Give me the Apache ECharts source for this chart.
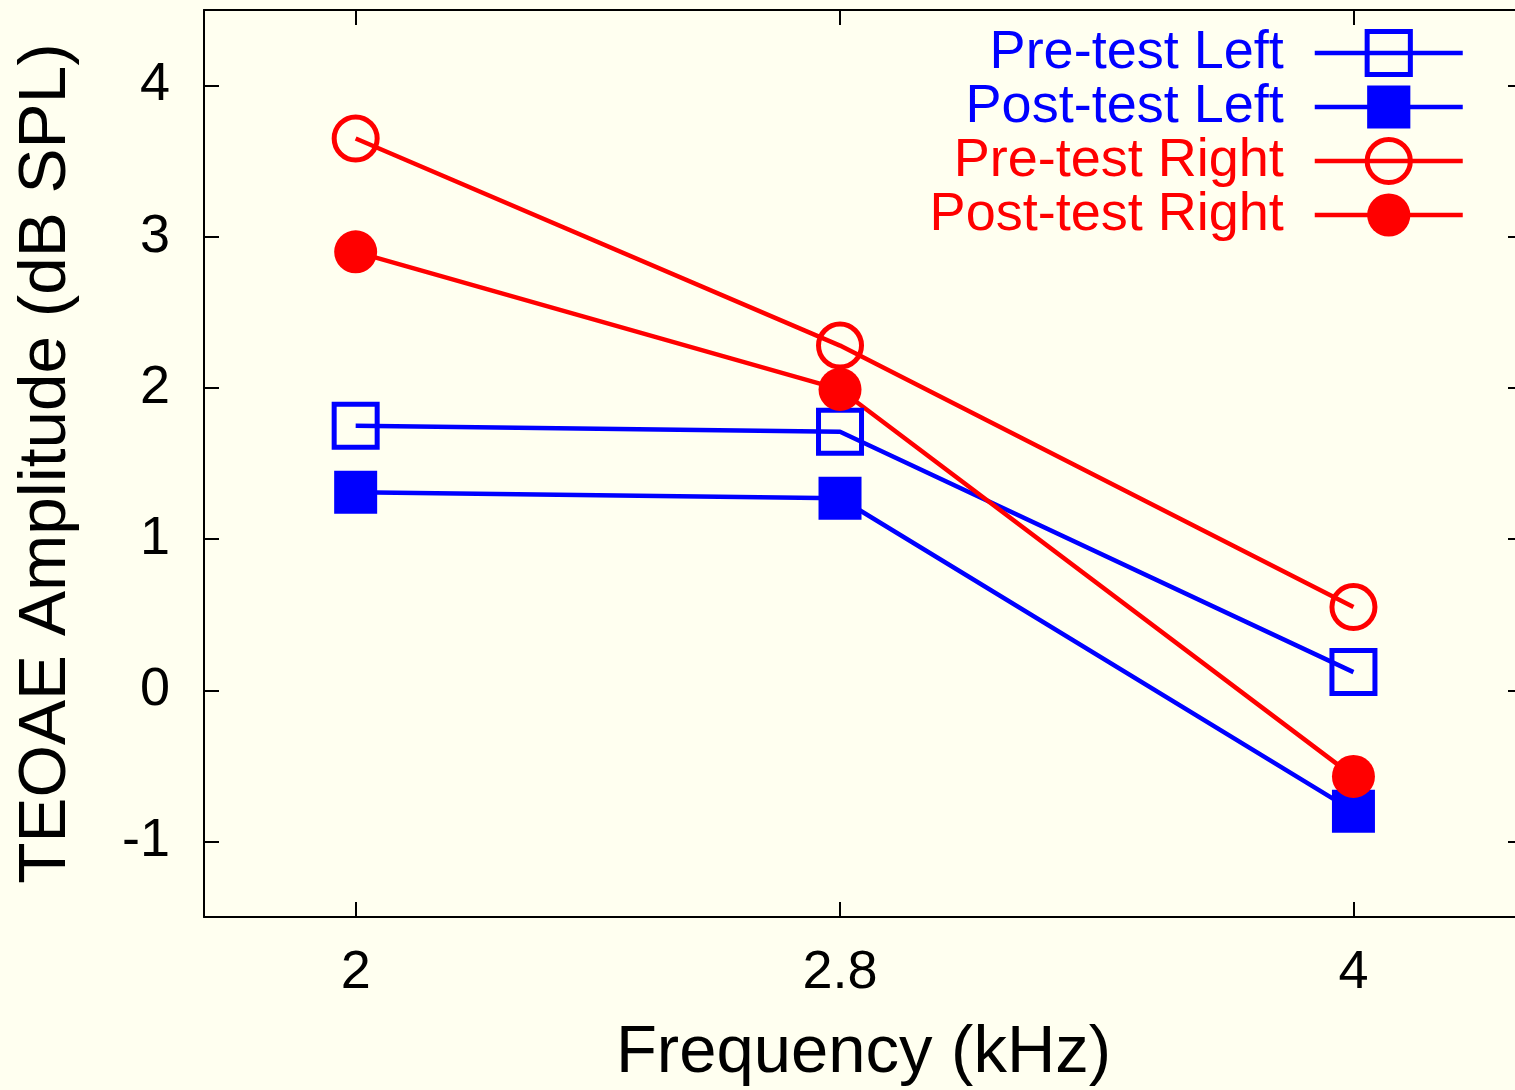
<!DOCTYPE html>
<html>
<head>
<meta charset="utf-8">
<script src="https://cdn.jsdelivr.net/npm/echarts@6/dist/echarts.min.js"></script>
<style>
  html, body { margin: 0; padding: 0; background: #fffff0; }
  #chart { width: 1515px; height: 1090px; }
</style>
</head>
<body>
<div id="chart"></div>
<script>
const freqs = [2, 2.8, 4];
const preLeft = [1.75, 1.71, 0.12];
const postLeft = [1.31, 1.27, -0.80];
const preRight = [3.65, 2.28, 0.55];
const postRight = [2.90, 1.99, -0.57];
const xTicks = [2, 2.8, 4];
const yTicks = [-1, 0, 1, 2, 3, 4];

const FONT = "Liberation Sans";
const BLUE = "#0000ff";
const RED = "#ff0000";

function pairs(values) {
  return freqs.map((f, i) => [f, values[i]]);
}

function makeSeries(name, values, color, symbol, hollow) {
  return {
    name: name,
    type: "line",
    data: pairs(values),
    symbol: symbol,
    symbolSize: 43,
    showSymbol: true,
    lineStyle: { color: color, width: 4.5 },
    itemStyle: hollow
      ? { color: "rgba(0,0,0,0)", borderColor: color, borderWidth: 5 }
      : { color: color, borderWidth: 0 },
    emphasis: { disabled: true },
  };
}

// axis line must stay on the frame, not cross at zero
const axisLine = { show: true, onZero: false, lineStyle: { color: "#000", width: 2 } };
const tickStyle = { color: "#000", width: 2 };

const chart = echarts.init(document.getElementById("chart"));
const option = {
  backgroundColor: "#fffff0",
  animation: false,
  textStyle: { fontFamily: FONT },
  grid: {
    left: 204,
    right: -8,
    top: 10,
    bottom: 173,
    containLabel: false,
    outerBoundsMode: "none",
  },
  legend: {
    orient: "vertical",
    align: "right",
    right: 45,
    top: 21,
    itemWidth: 148,
    itemHeight: 54,
    itemGap: 0,
    selectedMode: false,
    textStyle: {
      fontFamily: FONT,
      fontSize: 54,
      lineHeight: 54,
      padding: [0, 26, 0, 0],
    },
    lineStyle: { width: 4.5 },
    data: [
      { name: "Pre-test Left", textStyle: { color: BLUE }, itemStyle: { borderWidth: 5 } },
      { name: "Post-test Left", textStyle: { color: BLUE }, itemStyle: { borderWidth: 0 } },
      { name: "Pre-test Right", textStyle: { color: RED }, itemStyle: { borderWidth: 5 } },
      { name: "Post-test Right", textStyle: { color: RED }, itemStyle: { borderWidth: 0 } },
    ],
  },
  xAxis: [
    {
      type: "log",
      logBase: 10,
      min: 1.8,
      max: 4.5,
      position: "bottom",
      axisLine: axisLine,
      axisTick: { inside: true, length: 15, customValues: xTicks, lineStyle: tickStyle },
      minorTick: { show: false },
      splitLine: { show: false },
      axisLabel: {
        customValues: xTicks,
        color: "#000",
        fontFamily: FONT,
        fontSize: 54,
        margin: 29,
        formatter: (v) => String(Math.round(v * 10) / 10),
      },
      name: "Frequency (kHz)",
      nameLocation: "middle",
      nameGap: 103,
      nameTextStyle: { color: "#000", fontFamily: FONT, fontSize: 67 },
    },
    {
      type: "log",
      logBase: 10,
      min: 1.8,
      max: 4.5,
      position: "top",
      axisLine: axisLine,
      axisTick: { inside: true, length: 15, customValues: xTicks, lineStyle: tickStyle },
      minorTick: { show: false },
      splitLine: { show: false },
      axisLabel: { show: false },
    },
  ],
  yAxis: [
    {
      type: "value",
      min: -1.5,
      max: 4.5,
      position: "left",
      axisLine: axisLine,
      axisTick: { inside: true, length: 15, customValues: yTicks, lineStyle: tickStyle },
      splitLine: { show: false },
      axisLabel: {
        customValues: yTicks,
        color: "#000",
        fontFamily: FONT,
        fontSize: 54,
        margin: 34,
      },
      name: "TEOAE Amplitude (dB SPL)",
      nameLocation: "middle",
      nameGap: 124,
      nameTextStyle: { color: "#000", fontFamily: FONT, fontSize: 67.5 },
    },
    {
      type: "value",
      min: -1.5,
      max: 4.5,
      position: "right",
      axisLine: axisLine,
      axisTick: { inside: true, length: 15, customValues: yTicks, lineStyle: tickStyle },
      splitLine: { show: false },
      axisLabel: { show: false },
    },
  ],
  series: [
    makeSeries("Pre-test Left", preLeft, BLUE, "rect", true),
    makeSeries("Post-test Left", postLeft, BLUE, "rect", false),
    makeSeries("Pre-test Right", preRight, RED, "circle", true),
    makeSeries("Post-test Right", postRight, RED, "circle", false),
  ],
};
chart.setOption(option);
</script>
</body>
</html>
